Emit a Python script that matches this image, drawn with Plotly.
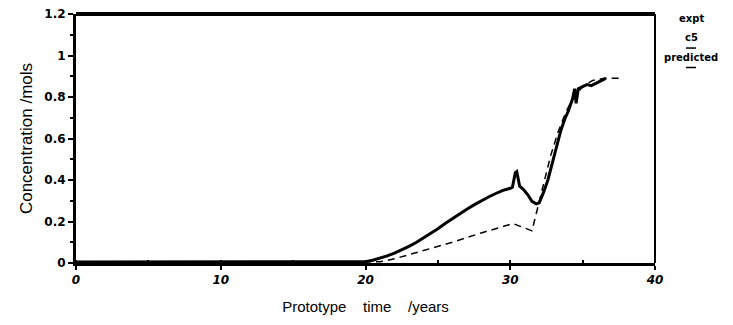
import plotly.graph_objects as go

# expt (c5) series
expt_t = [0, 5, 10, 15, 19, 20, 20.5, 21, 21.5, 22, 22.5, 23, 23.5, 24, 24.5, 25, 25.5, 26, 26.5, 27,
          27.5, 28, 28.5, 29, 29.5, 30, 30.15, 30.25, 30.35, 30.45, 30.55, 30.65, 30.9, 31.2,
          31.5, 31.8, 32.0, 32.3, 32.6, 32.9, 33.2, 33.5, 33.8, 34.0, 34.3, 34.45, 34.55, 34.7,
          35.0, 35.3, 35.6, 36.0, 36.3, 36.6]
expt_c = [0.005, 0.005, 0.005, 0.005, 0.005, 0.006, 0.013, 0.022, 0.034, 0.048, 0.063, 0.08,
          0.099, 0.12, 0.142, 0.165, 0.19, 0.214, 0.237, 0.259, 0.28, 0.30, 0.318, 0.335, 0.35,
          0.36, 0.365, 0.40, 0.435, 0.44, 0.41, 0.37, 0.355, 0.33, 0.297, 0.285, 0.29, 0.34,
          0.40, 0.48, 0.56, 0.64, 0.70, 0.73, 0.79, 0.84, 0.77, 0.84, 0.85, 0.86, 0.855, 0.87,
          0.88, 0.89]

# predicted series
pred_t = [0, 10, 20, 21, 22, 24, 26, 28, 30.2, 31.5, 31.8, 32.3, 32.8, 33.3, 33.8, 34.3, 35.0,
          35.7, 36.5, 37.8]
pred_c = [0.005, 0.005, 0.005, 0.006, 0.02, 0.06, 0.10, 0.145, 0.19, 0.155, 0.24, 0.39, 0.52,
          0.63, 0.72, 0.79, 0.85, 0.88, 0.89, 0.89]

x_ticks = [0, 10, 20, 30, 40]
y_ticks = [0, 0.2, 0.4, 0.6, 0.8, 1.0, 1.2]
y_labels = ["0", "0.2", "0.4", "0.6", "0.8", "1", "1.2"]

fig = go.Figure()
fig.add_trace(go.Scatter(x=expt_t, y=expt_c, mode="lines", name="c5",
                         line=dict(color="black", width=3)))
fig.add_trace(go.Scatter(x=pred_t, y=pred_c, mode="lines", name="predicted",
                         line=dict(color="black", width=1.5, dash="7px,5px")))

tickfont = dict(family="DejaVu Sans", size=12, color="black")

fig.update_layout(
    width=733, height=325,
    margin=dict(l=76, r=78, t=7, b=62),
    paper_bgcolor="white", plot_bgcolor="white",
    showlegend=False,
    xaxis=dict(range=[0, 40], tickvals=x_ticks, ticktext=[f"<b><i>{v}</i></b>" for v in x_ticks],
               ticks="outside", ticklen=4, tickwidth=2, tickcolor="black",
               showline=True, linewidth=3, linecolor="black", showgrid=False, zeroline=False,
               tickfont=tickfont,
               minor=dict(dtick=5, ticks="inside", ticklen=3, tickcolor="black", showgrid=False),
               title=dict(text="Prototype&nbsp;&nbsp;&nbsp; time&nbsp;&nbsp;&nbsp; /years",
                          font=dict(family="Liberation Sans", size=15, color="black"),
                          standoff=16)),
    yaxis=dict(range=[0, 1.2], tickvals=y_ticks, ticktext=[f"<b>{t}</b>" for t in y_labels],
               ticks="outside", ticklen=5, tickwidth=2, tickcolor="black",
               showline=True, linewidth=3, linecolor="black", showgrid=False, zeroline=False,
               tickfont=tickfont,
               minor=dict(dtick=0.1, ticks="outside", ticklen=3, tickcolor="black", showgrid=False),
               title=dict(text="Concentration /mols",
                          font=dict(family="Liberation Sans", size=17, color="black"),
                          standoff=8)),
)

# top and right frame lines
fig.add_shape(type="line", xref="paper", yref="paper", x0=0, x1=1, y0=1, y1=1,
              line=dict(color="black", width=4))
fig.add_shape(type="line", xref="paper", yref="paper", x0=1, x1=1, y0=0, y1=1,
              line=dict(color="black", width=2))

# legend-like annotations and short line samples
def px_x(p):
    return (p - 76) / (655 - 76)

def px_y(p):
    return 1 - (p - 7) / (263 - 7)

leg_font = dict(family="DejaVu Sans", size=10, color="black")
for txt, ypx in [("<b>expt</b>", 12), ("<b>c5</b>", 31), ("<b>predicted</b>", 52)]:
    fig.add_annotation(text=txt, xref="paper", yref="paper", x=px_x(691), y=px_y(ypx),
                       showarrow=False, font=leg_font, xanchor="center", yanchor="middle")
for ypx in [42, 62]:
    fig.add_shape(type="line", xref="paper", yref="paper", x0=px_x(686), x1=px_x(696),
                  y0=px_y(ypx), y1=px_y(ypx), line=dict(color="black", width=1.5))

fig.write_html("out.html")
